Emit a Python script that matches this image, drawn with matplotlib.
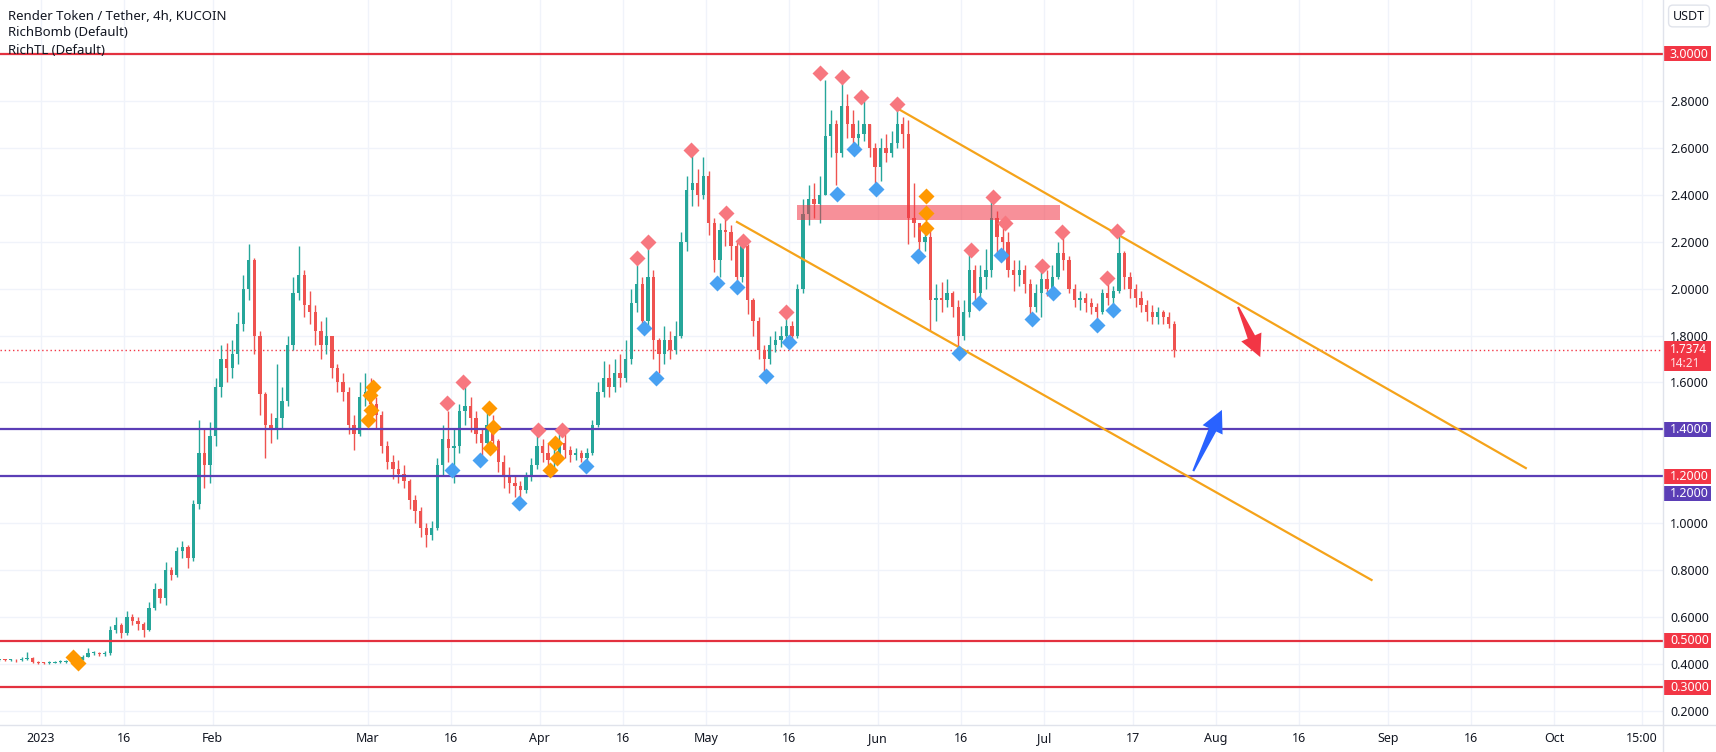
import numpy as np
import pandas as pd
import matplotlib
matplotlib.use("Agg")
import matplotlib.pyplot as plt
import matplotlib.dates as mdates
from matplotlib.patches import Polygon, Rectangle
from matplotlib.lines import Line2D
from matplotlib.transforms import blended_transform_factory

plt.rcParams['font.family'] = ['Noto Sans', 'DejaVu Sans']

# daily candles, 2022-12-24 .. 2023-07-24
close = [0.418, 0.416, 0.417, 0.415, 0.420, 0.425, 0.410, 0.405, 0.404, 0.406,
         0.408, 0.410, 0.412, 0.415, 0.418, 0.430, 0.445, 0.448, 0.443, 0.447,
         0.545, 0.565, 0.530, 0.600, 0.585, 0.570, 0.545, 0.640, 0.720, 0.680,
         0.800, 0.780, 0.880, 0.900, 0.850, 1.080, 1.300, 1.250, 1.370, 1.580,
         1.700, 1.660, 1.720, 1.850, 2.000, 2.120, 1.800, 1.550, 1.420, 1.400,
         1.450, 1.520, 1.760, 1.980, 2.060, 1.930, 1.900, 1.820, 1.760, 1.800,
         1.660, 1.600, 1.560, 1.420, 1.380, 1.540, 1.560, 1.510, 1.460, 1.330,
         1.260, 1.230, 1.210, 1.180, 1.100, 1.050, 0.980, 0.950, 0.980, 1.250,
         1.360, 1.320, 1.330, 1.480, 1.500, 1.450, 1.380, 1.340, 1.420, 1.350,
         1.260, 1.200, 1.170, 1.160, 1.140, 1.200, 1.250, 1.330, 1.300, 1.270,
         1.280, 1.340, 1.310, 1.290, 1.300, 1.280, 1.300, 1.420, 1.560, 1.620,
         1.580, 1.640, 1.620, 1.700, 1.940, 2.020, 1.860, 2.050, 1.780, 1.720,
         1.780, 1.740, 1.800, 2.200, 2.420, 2.450, 2.400, 2.480, 2.280, 2.120,
         2.250, 2.240, 2.180, 2.050, 2.180, 1.950, 1.860, 1.740, 1.700, 1.760,
         1.780, 1.800, 1.840, 1.800, 2.000, 2.320, 2.380, 2.360, 2.400, 2.650,
         2.700, 2.580, 2.780, 2.700, 2.640, 2.660, 2.700, 2.600, 2.520, 2.600,
         2.580, 2.620, 2.700, 2.660, 2.300, 2.280, 2.200, 2.220, 1.950, 1.960,
         1.950, 1.980, 1.920, 1.800, 1.900, 2.080, 1.980, 2.050, 2.080, 2.300,
         2.220, 2.200, 2.080, 2.060, 2.080, 2.020, 1.920, 1.980, 2.040, 2.000,
         2.050, 2.150, 2.120, 2.000, 1.950, 1.960, 1.940, 1.920, 1.900, 1.980,
         1.960, 1.990, 2.150, 2.050, 2.000, 1.960, 1.930, 1.900, 1.880, 1.900,
         1.880, 1.850, 1.7374]
high = [0.422, 0.421, 0.421, 0.420, 0.428, 0.452, 0.430, 0.412, 0.410, 0.412,
        0.414, 0.415, 0.417, 0.420, 0.423, 0.438, 0.470, 0.455, 0.452, 0.455,
        0.560, 0.600, 0.575, 0.625, 0.615, 0.600, 0.580, 0.665, 0.745, 0.725,
        0.835, 0.815, 0.900, 0.925, 0.905, 1.100, 1.440, 1.400, 1.430, 1.620,
        1.760, 1.770, 1.780, 1.900, 2.060, 2.190, 2.130, 1.820, 1.560, 1.470,
        1.680, 1.580, 1.800, 2.050, 2.180, 2.080, 1.990, 1.930, 1.860, 1.880,
        1.800, 1.680, 1.640, 1.580, 1.460, 1.600, 1.640, 1.620, 1.540, 1.480,
        1.350, 1.290, 1.270, 1.250, 1.190, 1.120, 1.070, 1.000, 1.010, 1.280,
        1.420, 1.480, 1.400, 1.510, 1.590, 1.540, 1.480, 1.400, 1.480, 1.460,
        1.360, 1.290, 1.240, 1.200, 1.180, 1.220, 1.280, 1.380, 1.360, 1.340,
        1.330, 1.380, 1.380, 1.330, 1.320, 1.310, 1.320, 1.440, 1.600, 1.690,
        1.680, 1.700, 1.720, 1.780, 2.000, 2.100, 2.050, 2.180, 2.080, 1.790,
        1.840, 1.820, 1.860, 2.240, 2.480, 2.570, 2.510, 2.560, 2.500, 2.300,
        2.280, 2.320, 2.270, 2.200, 2.210, 2.190, 1.960, 1.880, 1.760, 1.800,
        1.820, 1.840, 1.900, 1.860, 2.020, 2.380, 2.440, 2.450, 2.480, 2.890,
        2.760, 2.720, 2.880, 2.830, 2.760, 2.720, 2.800, 2.700, 2.620, 2.640,
        2.660, 2.670, 2.780, 2.730, 2.720, 2.450, 2.280, 2.270, 2.250, 2.020,
        2.030, 2.040, 1.990, 1.950, 1.950, 2.150, 2.100, 2.100, 2.170, 2.380,
        2.330, 2.260, 2.240, 2.120, 2.120, 2.100, 2.040, 2.020, 2.080, 2.080,
        2.100, 2.200, 2.220, 2.140, 2.020, 1.990, 1.980, 1.960, 1.940, 2.000,
        2.030, 2.010, 2.230, 2.160, 2.070, 2.020, 1.990, 1.950, 1.930, 1.920,
        1.910, 1.900, 1.860]
low = [0.412, 0.412, 0.413, 0.410, 0.412, 0.415, 0.405, 0.400, 0.400, 0.401,
       0.403, 0.404, 0.406, 0.410, 0.410, 0.418, 0.428, 0.438, 0.436, 0.436,
       0.440, 0.530, 0.510, 0.525, 0.565, 0.545, 0.515, 0.540, 0.630, 0.660,
       0.650, 0.760, 0.770, 0.850, 0.810, 0.840, 1.060, 1.150, 1.170, 1.330,
       1.540, 1.600, 1.620, 1.680, 1.820, 1.950, 1.720, 1.460, 1.280, 1.340,
       1.360, 1.400, 1.500, 1.740, 1.950, 1.880, 1.850, 1.760, 1.700, 1.720,
       1.620, 1.560, 1.520, 1.380, 1.310, 1.370, 1.500, 1.460, 1.400, 1.300,
       1.230, 1.190, 1.170, 1.150, 1.060, 1.000, 0.940, 0.900, 0.930, 0.970,
       1.200, 1.260, 1.170, 1.300, 1.420, 1.390, 1.340, 1.290, 1.320, 1.310,
       1.220, 1.150, 1.130, 1.110, 1.100, 1.130, 1.180, 1.230, 1.260, 1.230,
       1.220, 1.260, 1.280, 1.260, 1.270, 1.260, 1.250, 1.290, 1.410, 1.540,
       1.540, 1.560, 1.580, 1.600, 1.680, 1.900, 1.810, 1.830, 1.700, 1.640,
       1.680, 1.700, 1.720, 1.790, 2.160, 2.350, 2.350, 2.380, 2.230, 2.070,
       2.050, 2.180, 2.120, 2.000, 2.030, 1.890, 1.800, 1.700, 1.650, 1.680,
       1.730, 1.750, 1.770, 1.770, 1.790, 1.980, 2.270, 2.300, 2.280, 2.400,
       2.560, 2.440, 2.560, 2.640, 2.580, 2.600, 2.630, 2.560, 2.450, 2.460,
       2.540, 2.560, 2.600, 2.600, 2.190, 2.220, 2.150, 2.160, 1.820, 1.860,
       1.900, 1.920, 1.880, 1.740, 1.780, 1.880, 1.950, 1.940, 2.000, 2.050,
       2.150, 2.120, 2.050, 1.990, 2.010, 1.980, 1.880, 1.900, 1.880, 1.970,
       1.970, 2.040, 2.080, 1.980, 1.920, 1.910, 1.900, 1.890, 1.870, 1.890,
       1.930, 1.910, 1.980, 2.000, 1.960, 1.920, 1.900, 1.860, 1.850, 1.850,
       1.850, 1.830, 1.710]
dates = pd.date_range('2022-12-24', periods=len(close), freq='D')
last_price = 1.7374

# RichBomb signals
red_t = ['2023-03-15 06:00', '2023-03-18 04:00', '2023-03-31 16:00', '2023-04-05 00:00',
         '2023-04-18 13:00', '2023-04-20 13:00', '2023-04-28 07:00', '2023-05-04 14:00',
         '2023-05-07 16:00', '2023-05-15 10:00', '2023-05-21 13:00', '2023-05-25 13:00',
         '2023-05-29 00:00', '2023-06-04 11:00', '2023-06-17 19:00', '2023-06-21 19:00',
         '2023-06-23 23:00', '2023-06-30 15:00', '2023-07-04 06:00', '2023-07-12 08:00',
         '2023-07-14 04:00']
red_p = [1.512, 1.602, 1.397, 1.397, 2.130, 2.199, 2.591, 2.322, 2.203, 1.900, 2.919,
         2.902, 2.817, 2.787, 2.165, 2.390, 2.280, 2.096, 2.241, 2.045, 2.246]
blue_t = ['2023-03-16 04:00', '2023-03-21 05:00', '2023-03-28 06:00', '2023-04-09 08:00',
          '2023-04-19 19:00', '2023-04-21 23:00', '2023-05-02 23:00', '2023-05-06 14:00',
          '2023-05-11 20:00', '2023-05-15 23:00', '2023-05-24 15:00', '2023-05-27 17:00',
          '2023-05-31 16:00', '2023-06-08 06:00', '2023-06-15 15:00', '2023-06-19 06:00',
          '2023-06-23 05:00', '2023-06-28 19:00', '2023-07-02 14:00', '2023-07-10 13:00',
          '2023-07-13 10:00']
blue_p = [1.227, 1.269, 1.086, 1.244, 1.832, 1.619, 2.024, 2.007, 1.627, 1.772, 2.403,
          2.595, 2.425, 2.139, 1.725, 1.939, 2.143, 1.870, 1.981, 1.845, 1.909]
orange_t = ['2023-01-06 18:00', '2023-01-07 16:00', '2023-03-01 22:00', '2023-03-01 09:00',
            '2023-03-01 13:00', '2023-03-01 00:00', '2023-03-22 20:00', '2023-03-23 13:00',
            '2023-03-23 00:00', '2023-04-03 18:00', '2023-04-04 01:00', '2023-04-02 20:00',
            '2023-06-09 15:00', '2023-06-09 15:00', '2023-06-09 15:00']
orange_p = [0.430, 0.404, 1.581, 1.546, 1.483, 1.440, 1.491, 1.410, 1.321, 1.342, 1.277,
            1.227, 2.396, 2.321, 2.257]

# drawings
red_levels = [3.0, 0.5, 0.3]
purple_levels = [1.4, 1.2]
upper_t, upper_p = ['2023-06-04 02:00', '2023-09-25 22:00'], [2.774, 1.235]
lower_t, lower_p = ['2023-05-06 14:00', '2023-08-29 02:00'], [2.284, 0.758]
zone_t, zone_p = ['2023-05-17 10:00', '2023-07-03 22:00'], [2.292, 2.356]
down_arrow_t, down_arrow_p = ['2023-08-05 00:00', '2023-08-09 00:00'], [1.922, 1.708]
up_arrow_t, up_arrow_p = ['2023-07-27 22:00', '2023-08-02 02:00'], [1.222, 1.483]

tick_dates = ['2023-01-01', '2023-01-16', '2023-02-01', '2023-03-01', '2023-03-16',
              '2023-04-01', '2023-04-16', '2023-05-01', '2023-05-16', '2023-06-01',
              '2023-06-16', '2023-07-01', '2023-07-17', '2023-08-01', '2023-08-16',
              '2023-09-01', '2023-09-16', '2023-10-01', '2023-10-16 22:00']
tick_labels = ['2023', '16', 'Feb', 'Mar', '16', 'Apr', '16', 'May', '16', 'Jun', '16',
               'Jul', '17', 'Aug', '16', 'Sep', '16', 'Oct', '15:00']
price_ticks = [0.2, 0.4, 0.6, 0.8, 1.0, 1.6, 1.8, 2.0, 2.2, 2.4, 2.6, 2.8]
grid_prices = np.arange(0.2, 3.01, 0.2)


def dn(t):
    return mdates.date2num(pd.to_datetime(t))


fig = plt.figure(figsize=(17.16, 7.52), dpi=100)
ax = fig.add_axes([0, 27 / 752, 1663 / 1716, 725 / 752])
jan1 = dn('2023-01-01')
ax.set_xlim(jan1 - 41 / 5.542, jan1 + 1622 / 5.542)
ax.set_ylim(3 - 671 / 234.6, 3 + 54 / 234.6)
for s in ax.spines.values():
    s.set_visible(False)

for p in grid_prices:
    ax.axhline(p, color='#f0f3fa', lw=1, zorder=0)
for t in tick_dates:
    ax.axvline(dn(t), color='#f0f3fa', lw=1, zorder=0)

# candles
c = np.array(close)
op = np.r_[c[0], c[:-1]]
hi = np.maximum(np.array(high), np.maximum(op, c))
lo = np.minimum(np.array(low), np.minimum(op, c))
xs = mdates.date2num(dates) + 0.5
col = np.where(c >= op, '#26a69a', '#ef5350')
ax.vlines(xs, lo, hi, colors=col, lw=1, zorder=2)
ax.bar(xs, np.maximum(np.abs(c - op), 0.004), bottom=np.minimum(op, c), width=0.6,
       color=col, zorder=2)

# last price dotted line
ax.axhline(last_price, color='#f23645', lw=1, ls=(0, (1, 2)), zorder=1.5)

# horizontal levels
for p in red_levels:
    ax.axhline(p, color='#e3313f', lw=1.6, zorder=3)
for p in purple_levels:
    ax.axhline(p, color='#5b3eb6', lw=1.6, zorder=3)

# resistance zone
ax.add_patch(Rectangle((dn(zone_t[0]), zone_p[0]), dn(zone_t[1]) - dn(zone_t[0]),
                       zone_p[1] - zone_p[0], fc='#f23645', alpha=0.55, ec='none', zorder=3))

# channel
ax.plot([dn(t) for t in upper_t], upper_p, color='#f5a31a', lw=1.6, zorder=3)
ax.plot([dn(t) for t in lower_t], lower_p, color='#f5a31a', lw=1.6, zorder=3)

# signals
ax.plot([dn(t) for t in red_t], red_p, 'D', ms=8, color='#f7777f', mec='none', zorder=4)
ax.plot([dn(t) for t in blue_t], blue_p, 'D', ms=8, color='#48a1f2', mec='none', zorder=4)
ax.plot([dn(t) for t in orange_t], orange_p, 'D', ms=8, color='#ff9800', mec='none', zorder=4)


def arrow(ts, ps, color):
    (x0, y0), (x1, y1) = ax.transData.transform([(dn(ts[0]), ps[0]), (dn(ts[1]), ps[1])])
    L = np.hypot(x1 - x0, y1 - y0)
    ux, uy = (x1 - x0) / L, (y1 - y0) / L
    vx, vy = -uy, ux
    h, w, H, tw = 22, 8, 22, 2
    local = [(0, tw / 2), (L - h, w / 2), (L - h, H / 2), (L, 0),
             (L - h, -H / 2), (L - h, -w / 2), (0, -tw / 2)]
    pts = [(x0 + s * ux + t * vx, y0 + s * uy + t * vy) for s, t in local]
    ax.add_patch(Polygon(ax.transData.inverted().transform(pts), closed=True,
                         fc=color, ec='none', zorder=6))


arrow(down_arrow_t, down_arrow_p, '#f23645')
arrow(up_arrow_t, up_arrow_p, '#2962ff')

# axes labels
ax.set_xticks([dn(t) for t in tick_dates])
ax.set_xticklabels(tick_labels)
ax.yaxis.tick_right()
ax.set_yticks(price_ticks)
ax.set_yticklabels(['%.4f' % p for p in price_ticks])
ax.tick_params(axis='both', length=0, labelsize=9, labelcolor='#131722')
ax.tick_params(axis='x', pad=5)
ax.tick_params(axis='y', pad=5)

tr = blended_transform_factory(ax.transAxes, ax.transData)
bw = 48 / 1663
ph = 1 / 234.6


def tag(p, text, color, off=0):
    yc = p - off * ph
    ax.add_patch(Rectangle((1.0, yc - 7.5 * ph), bw, 15 * ph, transform=tr, fc=color,
                           ec='none', clip_on=False, zorder=7))
    ax.text(1.0 + 7 / 1663, yc, text, transform=tr, color='white', fontsize=9,
            va='center', ha='left', clip_on=False, zorder=8)


for p in red_levels:
    tag(p, '%.4f' % p, '#f23645')
tag(1.2, '1.2000', '#f23645')
tag(1.4, '1.4000', '#5b3eb6')
tag(1.2, '1.2000', '#5b3eb6', off=17)

# last price tag, sits just under the 1.8000 label
ax.add_patch(Rectangle((1.0, last_price - 21 * ph), bw, 30 * ph, transform=tr,
                       fc='#f23645', ec='none', clip_on=False, zorder=7))
ax.text(1.0 + 7 / 1663, last_price + 1 * ph, '%.4f' % last_price, transform=tr,
        color='white', fontsize=8.5, va='center', ha='left', clip_on=False, zorder=8)
ax.text(1.0 + 7 / 1663, last_price - 13 * ph, '14:21', transform=tr,
        color='#ffe3e5', fontsize=8.5, va='center', ha='left', clip_on=False, zorder=8)

# pane separators
fig.add_artist(Line2D([1663 / 1716] * 2, [0, 1], color='#e0e3eb', lw=1))
fig.add_artist(Line2D([0, 1], [27 / 752] * 2, color='#e0e3eb', lw=1))

fig.text(1689 / 1716, 1 - 16 / 752, 'USDT', ha='center', va='center', fontsize=9,
         color='#131722', bbox=dict(boxstyle='round,pad=0.35', fc='white', ec='#e0e3eb'))

fig.text(8 / 1716, 1 - 16 / 752, 'Render Token / Tether, 4h, KUCOIN', fontsize=9.5,
         fontweight='bold', color='#131722', va='center')
fig.text(8 / 1716, 1 - 33 / 752, 'RichBomb (Default)', fontsize=9.5, color='#131722', va='center')
fig.text(8 / 1716, 1 - 50 / 752, 'RichTL (Default)', fontsize=9.5, color='#131722', va='center')

fig.savefig('out.png', dpi=100, facecolor='white')
